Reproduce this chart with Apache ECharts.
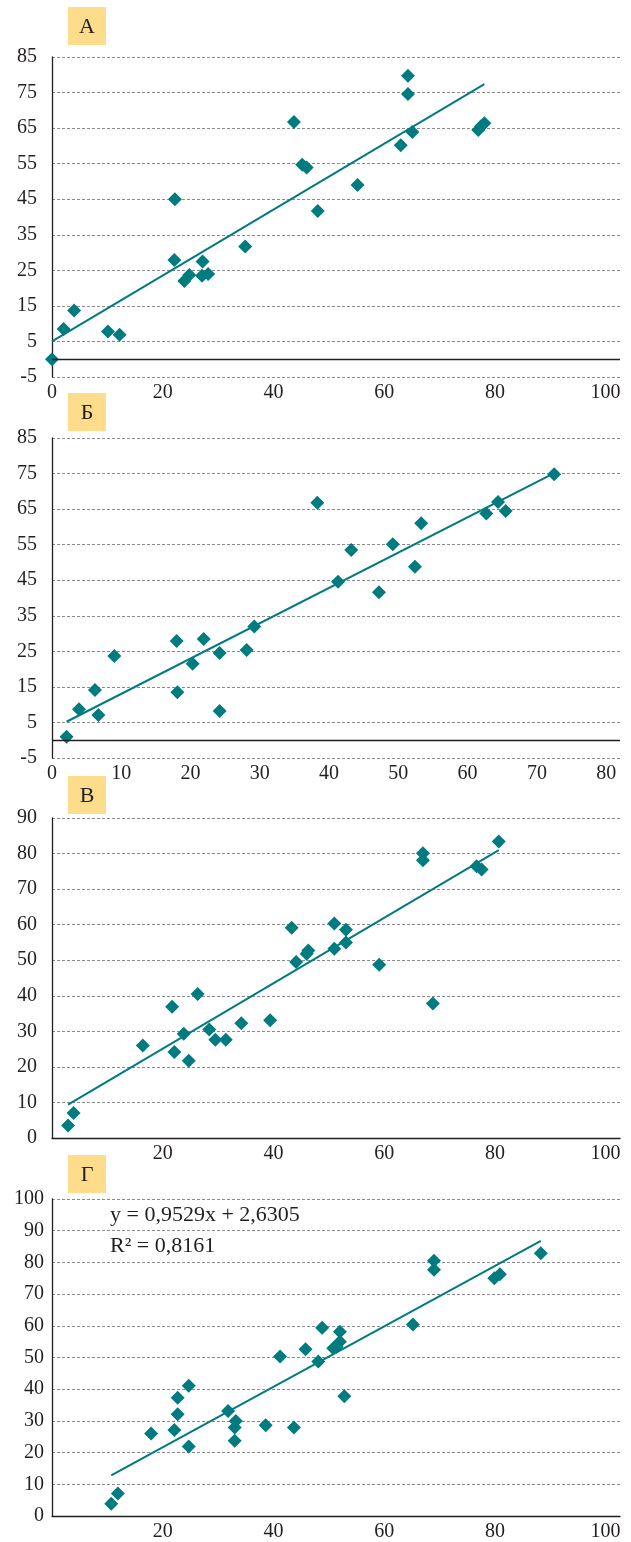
<!DOCTYPE html>
<html>
<head>
<meta charset="utf-8">
<script src="https://cdn.jsdelivr.net/npm/echarts@6/dist/echarts.min.js"></script>
<style>
  html, body { margin: 0; padding: 0; background: #fff; }
  #chart { width: 631px; height: 1542px; }
</style>
</head>
<body>
<div id="chart"></div>
<script>
// panel letters
const panelNames = ['А', 'Б', 'В', 'Г'];

// panel А
const aX = [0, 2.1, 4.0, 10.1, 12.2, 22.2, 22.1, 23.9, 24.8, 27.2, 27.1, 28.2, 34.9, 43.7, 45.2, 46.0, 48.0, 55.2, 64.3, 64.3, 65.1, 63.0, 77.0, 77.5, 78.1];
const aY = [0, 8.5, 13.7, 7.8, 6.9, 45.0, 27.9, 22.0, 23.7, 27.5, 23.5, 24.0, 31.7, 66.7, 54.7, 53.9, 41.7, 49.0, 79.7, 74.6, 63.9, 60.2, 64.5, 65.5, 66.4];
const aTrend = [0.927, 5.0];

// panel Б
const bX = [2.1, 3.9, 6.2, 6.7, 9.0, 18.0, 18.1, 20.3, 21.9, 24.2, 24.2, 28.1, 29.2, 38.3, 41.3, 43.2, 47.2, 49.2, 52.4, 53.3, 62.7, 64.4, 65.5, 72.5];
const bY = [1.0, 8.7, 14.1, 7.1, 23.7, 27.9, 13.5, 21.5, 28.5, 24.5, 8.2, 25.4, 32.0, 66.8, 44.6, 53.5, 41.6, 55.1, 48.8, 61.0, 63.8, 67.0, 64.5, 74.8];
const bTrend = [0.993, 3.11];

// panel В
const vX = [2.9, 3.9, 16.4, 21.7, 22.1, 23.8, 24.7, 26.3, 28.4, 29.5, 31.4, 34.2, 39.4, 43.3, 44.1, 46.3, 46.0, 51.0, 51.0, 53.1, 53.1, 59.1, 67.0, 67.0, 68.8, 76.7, 77.6, 80.7];
const vY = [3.5, 7.0, 26.0, 36.9, 24.2, 29.3, 21.7, 40.5, 30.5, 27.6, 27.6, 32.3, 33.1, 59.1, 49.5, 52.7, 51.8, 53.2, 60.3, 58.6, 55.0, 48.7, 80.1, 78.1, 37.8, 76.4, 75.5, 83.4];
const vTrend = [0.920, 6.73];

// panel Г
const gX = [10.7, 11.9, 17.9, 22.1, 22.7, 22.7, 24.7, 24.7, 31.8, 33.2, 33.0, 33.0, 38.6, 41.2, 43.7, 45.8, 48.1, 48.8, 50.8, 52.0, 52.0, 51.4, 52.8, 65.2, 69.0, 69.0, 79.9, 80.9, 88.3];
const gY = [3.9, 7.1, 26.0, 27.1, 37.3, 32.1, 41.1, 21.9, 33.1, 30.0, 27.9, 23.7, 28.6, 50.3, 27.9, 52.6, 48.7, 59.4, 52.9, 58.1, 55.0, 53.4, 37.8, 60.4, 80.5, 77.7, 75.0, 76.3, 82.9];
const gTrend = [0.9529, 2.6305];
const gEquation = 'y = 0,9529x + 2,6305';
const gR2 = 'R² = 0,8161';

// axis ranges [min, max, interval]
const yRangeA = [-5, 85, 10];
const yRangeB = [-5, 85, 10];
const yRangeV = [0, 90, 10];
const yRangeG = [0, 100, 10];
const xRangeA = [0, 102.6, 20];
const xRangeB = [0, 82, 10];
const xRangeV = [0, 102.6, 20];
const xRangeG = [0, 102.6, 20];

const teal = '#007b80';
const ink = '#231f20';
const font = '"Liberation Serif", "DejaVu Serif", serif';

function pts(xs, ys) {
  return xs.map((x, i) => [x, ys[i]]);
}

function trend(xs, coef) {
  const lo = Math.min(...xs);
  const hi = Math.max(...xs);
  return [[lo, coef[0] * lo + coef[1]], [hi, coef[0] * hi + coef[1]]];
}

const panels = [
  { xs: aX, ys: aY, coef: aTrend, yr: yRangeA, xr: xRangeA, top: 57, zeroLine: true, yMargin: 15, hideMin: false },
  { xs: bX, ys: bY, coef: bTrend, yr: yRangeB, xr: xRangeB, top: 438, zeroLine: true, yMargin: 15, hideMin: false },
  { xs: vX, ys: vY, coef: vTrend, yr: yRangeV, xr: xRangeV, top: 818, zeroLine: false, yMargin: 15, hideMin: true },
  { xs: gX, ys: gY, coef: gTrend, yr: yRangeG, xr: xRangeG, top: 1199, zeroLine: false, yMargin: 8, hideMin: true }
];
const boxTops = [7, 393, 776, 1155];

const grid = [], xAxis = [], yAxis = [], series = [], graphic = [];

panels.forEach((p, i) => {
  grid.push({ left: 52, width: 568, top: p.top, height: 320 });
  xAxis.push({
    type: 'value', gridIndex: i,
    min: p.xr[0], max: p.xr[1], interval: p.xr[2],
    axisLine: { show: !p.zeroLine, onZero: false, lineStyle: { color: ink, width: 1.3 } },
    axisTick: { show: false },
    splitLine: { show: false },
    axisLabel: {
      color: ink, fontFamily: font, fontSize: 20, margin: 6,
      showMaxLabel: false, showMinLabel: !p.hideMin
    }
  });
  yAxis.push({
    type: 'value', gridIndex: i,
    min: p.yr[0], max: p.yr[1], interval: p.yr[2],
    axisLine: { show: true, onZero: false, lineStyle: { color: ink, width: 1.3 } },
    axisTick: { show: false },
    splitLine: { show: true, lineStyle: { color: '#8a8a8a', width: 1, type: [3, 2] } },
    axisLabel: { color: ink, fontFamily: font, fontSize: 20, margin: p.yMargin }
  });
  series.push({
    type: 'scatter', xAxisIndex: i, yAxisIndex: i,
    symbol: 'diamond', symbolSize: 14,
    itemStyle: { color: teal, opacity: 1 },
    data: pts(p.xs, p.ys),
    z: 3
  });
  const line = {
    type: 'line', xAxisIndex: i, yAxisIndex: i,
    showSymbol: false, symbol: 'none',
    lineStyle: { color: teal, width: 2 },
    data: trend(p.xs, p.coef),
    z: 4
  };
  if (p.zeroLine) {
    line.markLine = {
      silent: true, symbol: ['none', 'none'],
      label: { show: false },
      lineStyle: { color: ink, type: 'solid', width: 1.3 },
      data: [{ yAxis: 0 }]
    };
  }
  series.push(line);

  graphic.push({
    type: 'group', left: 68, top: boxTops[i],
    children: [
      { type: 'rect', shape: { x: 0, y: 0, width: 38, height: 38 }, style: { fill: '#fddc8c' } },
      {
        type: 'text', x: 19, y: 20,
        style: { text: panelNames[i], fill: ink, font: '22px ' + font, textAlign: 'center', textVerticalAlign: 'middle' }
      }
    ]
  });
});

graphic.push({
  type: 'text', left: 110, top: 1204,
  style: { text: gEquation, fill: ink, font: '22px ' + font }
});
graphic.push({
  type: 'text', left: 110, top: 1235,
  style: { text: gR2, fill: ink, font: '22px ' + font }
});

const chart = echarts.init(document.getElementById('chart'));
chart.setOption({
  animation: false,
  grid: grid,
  xAxis: xAxis,
  yAxis: yAxis,
  series: series,
  graphic: graphic
});
</script>
</body>
</html>
